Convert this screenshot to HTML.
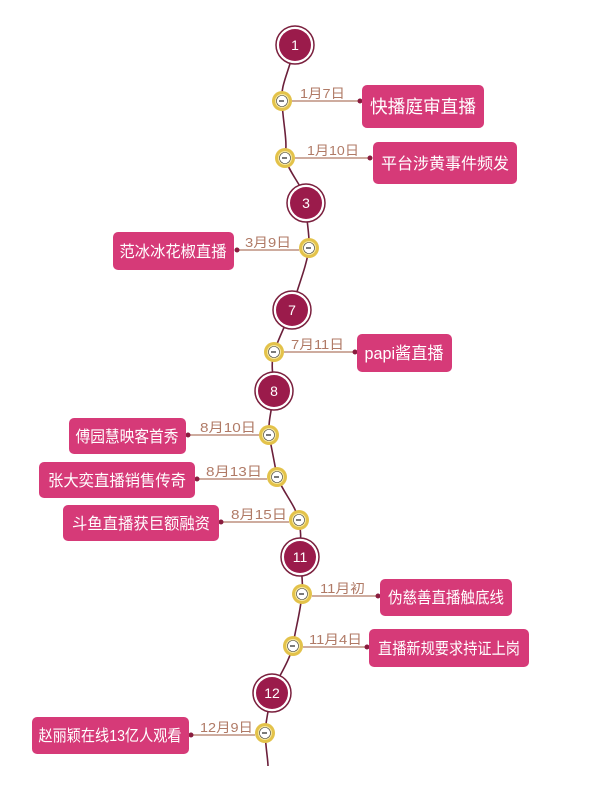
<!DOCTYPE html>
<html><head><meta charset="utf-8"><style>
html,body{margin:0;padding:0;background:#fff;width:600px;height:790px;overflow:hidden}
svg{display:block}
.d{font-family:"Liberation Sans","Noto Sans CJK SC",sans-serif;font-size:13px;fill:#b07a66}
.b{font-family:"Liberation Sans","Noto Sans CJK SC",sans-serif;font-size:16px;fill:#fff;text-anchor:middle}
.n{font-family:"Liberation Sans",sans-serif;font-size:14px;fill:#fff;text-anchor:middle}
</style></head><body>
<svg width="600" height="790" viewBox="0 0 600 790" xmlns="http://www.w3.org/2000/svg">
<defs>
<g id="m"><circle r="19" fill="#fff" stroke="#7a1f3d" stroke-width="1.5"/><circle r="16" fill="#9b1b4b"/></g>
<g id="c"><circle r="10" fill="#e3c24a"/><circle r="7" fill="#f6e7a0"/><circle r="5.5" fill="#fff" stroke="#444" stroke-width="0.6"/><line x1="-3" y1="0" x2="2" y2="0" stroke="#222" stroke-width="1.2"/></g>
</defs>
<path d="M295,45 C290,70 280,85 282,101 C283,125 288,140 285,158 C290,175 306,190 306,203 C306,220 310,235 309,248 C306,270 296,290 292,310 C285,325 278,340 274,352 C270,365 274,380 274,391 C272,410 268,420 269,435 C272,450 275,465 277,477 C285,495 295,505 299,520 C302,535 300,545 300,557 C302,575 303,585 302,594 C300,615 295,630 293,646 C288,665 276,680 272,693 C268,710 266,720 265,733 C266,750 268,760 268,766" fill="none" stroke="#6b1f3a" stroke-width="1.6"/>
<g stroke="#b07a66" stroke-width="1.2">
<line x1="292" y1="101" x2="360" y2="101"/><line x1="295" y1="158" x2="370" y2="158"/>
<line x1="237" y1="250" x2="299" y2="250"/><line x1="284" y1="352" x2="355" y2="352"/>
<line x1="188" y1="435" x2="259" y2="435"/><line x1="197" y1="479" x2="267" y2="479"/>
<line x1="221" y1="522" x2="289" y2="522"/><line x1="312" y1="596" x2="378" y2="596"/>
<line x1="303" y1="647" x2="367" y2="647"/><line x1="191" y1="735" x2="255" y2="735"/>
</g>
<g fill="#8a1c3f">
<circle cx="360" cy="101" r="2.5"/><circle cx="370" cy="158" r="2.5"/><circle cx="237" cy="250" r="2.5"/><circle cx="355" cy="352" r="2.5"/><circle cx="188" cy="435" r="2.5"/><circle cx="197" cy="479" r="2.5"/><circle cx="221" cy="522" r="2.5"/><circle cx="378" cy="596" r="2.5"/><circle cx="367" cy="647" r="2.5"/><circle cx="191" cy="735" r="2.5"/>
</g>
<g class="d">
<text x="300" y="98" textLength="45" lengthAdjust="spacingAndGlyphs">1月7日</text>
<text x="307" y="155" textLength="52" lengthAdjust="spacingAndGlyphs">1月10日</text>
<text x="245" y="247" textLength="46" lengthAdjust="spacingAndGlyphs">3月9日</text>
<text x="291" y="349" textLength="53" lengthAdjust="spacingAndGlyphs">7月11日</text>
<text x="200" y="432" textLength="56" lengthAdjust="spacingAndGlyphs">8月10日</text>
<text x="206" y="476" textLength="56" lengthAdjust="spacingAndGlyphs">8月13日</text>
<text x="231" y="519" textLength="56" lengthAdjust="spacingAndGlyphs">8月15日</text>
<text x="320" y="593" textLength="45" lengthAdjust="spacingAndGlyphs">11月初</text>
<text x="309" y="644" textLength="53" lengthAdjust="spacingAndGlyphs">11月4日</text>
<text x="200" y="732" textLength="53" lengthAdjust="spacingAndGlyphs">12月9日</text>
</g>
<g fill="#d63a78">
<rect x="362" y="85" width="122" height="43" rx="5"/><rect x="373" y="142" width="144" height="42" rx="5"/>
<rect x="113" y="232" width="121" height="38" rx="5"/><rect x="357" y="334" width="95" height="38" rx="5"/>
<rect x="69" y="418" width="117" height="36" rx="5"/><rect x="39" y="462" width="156" height="36" rx="5"/>
<rect x="63" y="505" width="156" height="36" rx="5"/><rect x="380" y="579" width="132" height="37" rx="5"/>
<rect x="369" y="629" width="160" height="38" rx="5"/><rect x="32" y="717" width="157" height="37" rx="5"/>
</g>
<g class="b">
<text x="423" y="113" font-size="18" textLength="106" lengthAdjust="spacingAndGlyphs">快播庭审直播</text>
<text x="445" y="169" textLength="128" lengthAdjust="spacingAndGlyphs">平台涉黄事件频发</text>
<text x="173" y="257" textLength="107" lengthAdjust="spacingAndGlyphs">范冰冰花椒直播</text>
<text x="404" y="359" font-size="17" textLength="79" lengthAdjust="spacingAndGlyphs">papi酱直播</text>
<text x="127" y="442" textLength="103" lengthAdjust="spacingAndGlyphs">傅园慧映客首秀</text>
<text x="117" y="486" textLength="138" lengthAdjust="spacingAndGlyphs">张大奕直播销售传奇</text>
<text x="141" y="529" textLength="138" lengthAdjust="spacingAndGlyphs">斗鱼直播获巨额融资</text>
<text x="446" y="603" textLength="116" lengthAdjust="spacingAndGlyphs">伪慈善直播触底线</text>
<text x="449" y="654" textLength="142" lengthAdjust="spacingAndGlyphs">直播新规要求持证上岗</text>
<text x="110" y="741" textLength="143" lengthAdjust="spacingAndGlyphs">赵丽颖在线13亿人观看</text>
</g>
<use href="#m" x="295" y="45"/><use href="#m" x="306" y="203"/><use href="#m" x="292" y="310"/><use href="#m" x="274" y="391"/><use href="#m" x="300" y="557"/><use href="#m" x="272" y="693"/>
<text class="n" x="295" y="50">1</text><text class="n" x="306" y="208">3</text><text class="n" x="292" y="315">7</text><text class="n" x="274" y="396">8</text><text class="n" x="300" y="562">11</text><text class="n" x="272" y="698">12</text>
<use href="#c" x="282" y="101"/><use href="#c" x="285" y="158"/><use href="#c" x="309" y="248"/><use href="#c" x="274" y="352"/><use href="#c" x="269" y="435"/><use href="#c" x="277" y="477"/><use href="#c" x="299" y="520"/><use href="#c" x="302" y="594"/><use href="#c" x="293" y="646"/><use href="#c" x="265" y="733"/>
</svg>
</body></html>
